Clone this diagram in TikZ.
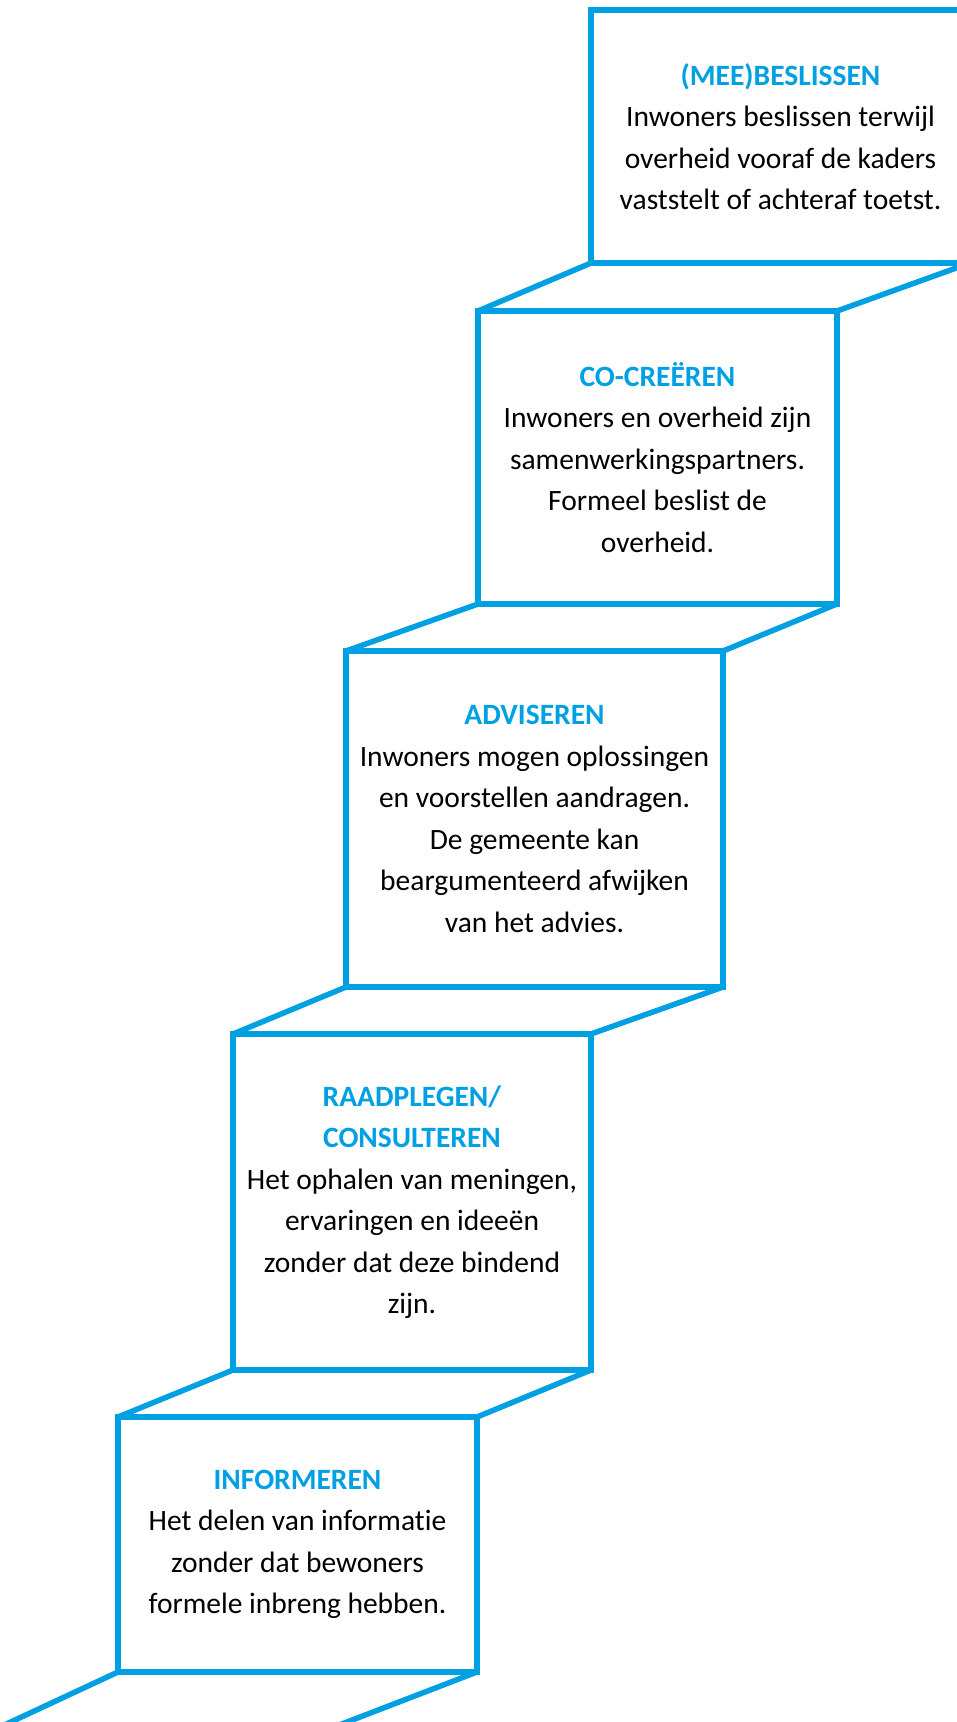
\documentclass[tikz,border=0pt]{standalone}
\usepackage{fontspec}
\setmainfont{Carlito}[Ligatures=NoCommon]
\definecolor{stairblue}{RGB}{0,160,227}
\newcommand{\stairtitle}[1]{\textcolor{stairblue}{\textbf{#1}}}
\begin{document}
\begin{tikzpicture}[x=1pt,y=-1pt,
    stairbox/.style={draw=stairblue, line width=5.5pt, outer sep=0pt,
      align=center, font=\fontsize{29.5}{41.5}\selectfont},
    stairline/.style={draw=stairblue, line width=5.5pt}]
  \useasboundingbox (0,0) rectangle (957,1722);
  \clip (0,0) rectangle (957,1722);
  \node[stairbox, minimum width=379pt, minimum height=253pt] (beslissen) at (780.5,136.5)
    {\stairtitle{(MEE)BESLISSEN}\\Inwoners beslissen terwijl\\overheid vooraf de kaders\\vaststelt of achteraf toetst.};
  \node[stairbox, minimum width=359pt, minimum height=293pt] (cocreeren) at (657.5,457.5)
    {\stairtitle{CO-CREËREN}\\Inwoners en overheid zijn\\samenwerkingspartners.\\Formeel beslist de\\overheid.};
  \node[stairbox, minimum width=377pt, minimum height=336pt] (adviseren) at (534.5,819)
    {\stairtitle{ADVISEREN}\\Inwoners mogen oplossingen\\en voorstellen aandragen.\\De gemeente kan\\beargumenteerd afwijken\\van het advies.};
  \node[stairbox, minimum width=358pt, minimum height=336pt] (raadplegen) at (412,1202)
    {\stairtitle{RAADPLEGEN/}\\\stairtitle{CONSULTEREN}\\Het ophalen van meningen,\\ervaringen en ideeën\\zonder dat deze bindend\\zijn.};
  \node[stairbox, minimum width=359pt, minimum height=255pt] (informeren) at (297.5,1544.5)
    {\stairtitle{INFORMEREN}\\Het delen van informatie\\zonder dat bewoners\\formele inbreng hebben.};
  \coordinate (endleft) at (0,1727);
  \coordinate (endright) at (334,1727);
  \begin{scope}[stairline]
    \draw (beslissen.south west) to (cocreeren.north west);
    \draw (beslissen.south east) to (cocreeren.north east);
    \draw (cocreeren.south west) to (adviseren.north west);
    \draw (cocreeren.south east) to (adviseren.north east);
    \draw (adviseren.south west) to (raadplegen.north west);
    \draw (adviseren.south east) to (raadplegen.north east);
    \draw (raadplegen.south west) to (informeren.north west);
    \draw (raadplegen.south east) to (informeren.north east);
    \draw (informeren.south west) to (endleft);
    \draw (informeren.south east) to (endright);
  \end{scope}
\end{tikzpicture}
\end{document}
